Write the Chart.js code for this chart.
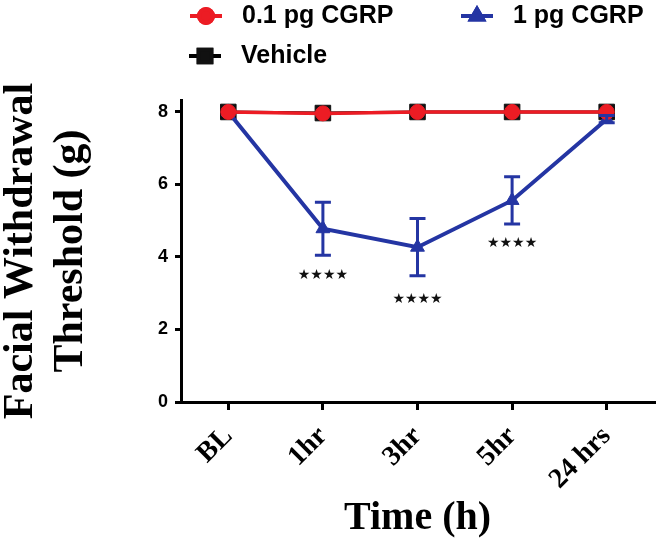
<!DOCTYPE html>
<html lang="en">
<head>
    <meta charset="UTF-8">
    <title>Facial Withdrawal Threshold</title>
    <style>
        html, body { margin: 0; padding: 0; background: #fff; }
        #wrap { width: 656px; height: 545px; }
    </style>
    <script src="https://cdn.jsdelivr.net/npm/chart.js@4.4.0/dist/chart.umd.min.js"></script>
</head>
<body>
    <div id="wrap">
        <canvas id="chart" width="656" height="545"></canvas>
    </div>
    <script>
        // values
        const timeLabels = ['BL', '1hr', '3hr', '5hr', '24 hrs'];
        const cgrp01 = [8, 7.96, 8, 8, 8];
        const cgrp1 = [8, 4.78, 4.27, 5.56, 7.8];
        const cgrp1Err = [0, 0.73, 0.79, 0.65, 0.1];
        const vehicle = [8, 7.97, 8, 8, 8];
        const yTicks = [0, 2, 4, 6, 8];
        // significance marks under the 1 pg series
        const sigText = ['', '★★★★', '★★★★', '★★★★', ''];
        const sigY = [null, 3.48, 2.84, 4.38, null];

        const RED = '#ec1c24';
        const BLUE = '#2435a3';

        // error bars for the 1 pg series
        const errorBars = {
            id: 'errorBars',
            afterDatasetsDraw(chart) {
                const ctx = chart.ctx;
                const x = chart.scales.x, y = chart.scales.y;
                ctx.save();
                ctx.strokeStyle = BLUE;
                ctx.lineWidth = 3;
                cgrp1.forEach((v, i) => {
                    if (!cgrp1Err[i]) return;
                    const px = x.getPixelForValue(i);
                    const top = y.getPixelForValue(v + cgrp1Err[i]);
                    const bot = y.getPixelForValue(v - cgrp1Err[i]);
                    ctx.beginPath();
                    ctx.moveTo(px, top); ctx.lineTo(px, bot);
                    ctx.moveTo(px - 8, top); ctx.lineTo(px + 8, top);
                    ctx.moveTo(px - 8, bot); ctx.lineTo(px + 8, bot);
                    ctx.stroke();
                });
                // stars
                ctx.fillStyle = '#111';
                ctx.font = '14px "DejaVu Sans"';
                ctx.textAlign = 'center';
                ctx.textBaseline = 'middle';
                sigText.forEach((t, i) => {
                    if (!t) return;
                    ctx.fillText(t, x.getPixelForValue(i), y.getPixelForValue(sigY[i]));
                });
                ctx.restore();
            }
        };

        // legend in two rows like the original
        const legendBox = {
            id: 'legendBox',
            afterDraw(chart) {
                const ctx = chart.ctx;
                const items = [
                    { ds: 0, x: 190, y: 16 },
                    { ds: 1, x: 461, y: 16 },
                    { ds: 2, x: 189, y: 56 }
                ];
                ctx.save();
                items.forEach(it => {
                    const ds = chart.data.datasets[it.ds];
                    ctx.strokeStyle = ds.borderColor;
                    ctx.lineWidth = 4;
                    ctx.beginPath();
                    ctx.moveTo(it.x, it.y); ctx.lineTo(it.x + 32, it.y);
                    ctx.stroke();
                    Chart.helpers.drawPoint(ctx, {
                        pointStyle: ds.pointStyle, radius: it.ds === 2 ? 9 : 7, borderWidth: 1
                    }, it.x + 16, it.y);
                    ctx.fillStyle = ds.pointBackgroundColor;
                    ctx.strokeStyle = ds.pointBorderColor;
                    ctx.fill();
                    ctx.stroke();
                    ctx.fillStyle = '#000';
                    ctx.font = 'bold 25px "Liberation Sans", Arial';
                    ctx.textAlign = 'left';
                    ctx.textBaseline = 'middle';
                    ctx.fillText(ds.label, it.x + 52, it.y);
                });
                ctx.restore();
            }
        };

        new Chart(document.getElementById('chart'), {
            type: 'line',
            data: {
                labels: timeLabels,
                datasets: [{
                    label: '0.1 pg CGRP',
                    data: cgrp01,
                    borderColor: RED,
                    borderWidth: 3.5,
                    pointStyle: 'circle',
                    pointRadius: 7.5,
                    pointBackgroundColor: RED,
                    pointBorderColor: RED,
                    pointBorderWidth: 1
                }, {
                    label: '1 pg CGRP',
                    data: cgrp1,
                    borderColor: BLUE,
                    borderWidth: 4,
                    pointStyle: 'triangle',
                    pointRadius: 8,
                    pointBackgroundColor: BLUE,
                    pointBorderColor: BLUE,
                    pointBorderWidth: 1
                }, {
                    label: 'Vehicle',
                    data: vehicle,
                    borderColor: '#000',
                    borderWidth: 3,
                    pointStyle: 'rect',
                    pointRadius: 11,
                    pointBackgroundColor: '#111',
                    pointBorderColor: '#111',
                    pointBorderWidth: 1
                }]
            },
            options: {
                responsive: false,
                animation: false,
                layout: { autoPadding: false, padding: { top: 100, left: 0, right: 2, bottom: 0 } },
                plugins: {
                    legend: { display: false },
                    tooltip: { enabled: false }
                },
                scales: {
                    x: {
                        offset: true,
                        border: { color: '#000', width: 3 },
                        grid: { drawOnChartArea: false, drawTicks: true, tickLength: 8, color: '#000', lineWidth: 3 },
                        ticks: {
                            color: '#000',
                            minRotation: 45, maxRotation: 45,
                            padding: 10,
                            font: { family: '"Liberation Serif", "Times New Roman"', size: 28, weight: 'bold' }
                        },
                        title: {
                            display: true,
                            text: 'Time (h)',
                            color: '#000',
                            padding: { top: 0, bottom: 2 },
                            font: { family: '"Liberation Serif", "Times New Roman"', size: 40, weight: 'bold' }
                        },
                        afterFit(scale) { scale.height = 143; }
                    },
                    y: {
                        min: 0,
                        max: 8.33,
                        afterBuildTicks(scale) { scale.ticks = yTicks.map(v => ({ value: v })); },
                        border: { color: '#000', width: 3 },
                        grid: { drawOnChartArea: false, drawTicks: true, tickLength: 6, color: '#000', lineWidth: 3 },
                        ticks: {
                            color: '#000',
                            padding: 7,
                            font: { family: '"Liberation Sans", Arial', size: 18, weight: 'bold' }
                        },
                        title: {
                            display: true,
                            text: ['Facial Withdrawal', 'Threshold (g)'],
                            color: '#000',
                            padding: { top: -4, bottom: 0 },
                            font: { family: '"Liberation Serif", "Times New Roman"', size: 42, weight: 'bold', lineHeight: 1.2 }
                        },
                        afterFit(scale) { scale.width = 181; }
                    }
                }
            },
            plugins: [errorBars, legendBox]
        });
    </script>
</body>
</html>
